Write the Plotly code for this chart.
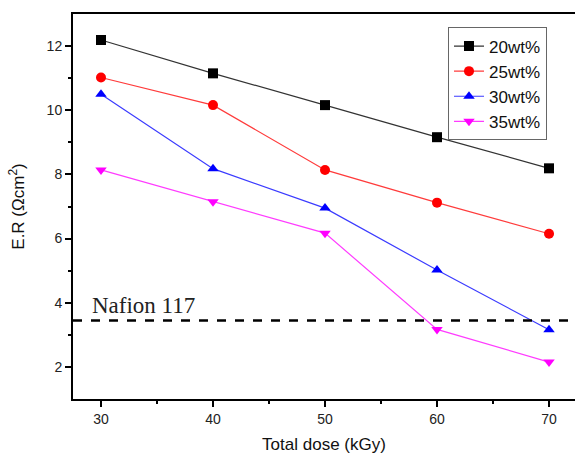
import plotly.graph_objects as go

dose = [30, 40, 50, 60, 70]
er_20 = [12.19, 11.15, 10.16, 9.16, 8.19]
er_25 = [11.02, 10.16, 8.14, 7.12, 6.15]
er_30 = [10.5, 8.18, 6.95, 5.02, 3.16]
er_35 = [8.14, 7.15, 6.17, 3.17, 2.15]
nafion_er = 3.45

series = [
    ("20wt%", er_20, "black", "#333333", "square"),
    ("25wt%", er_25, "red", "#ff3b3b", "circle"),
    ("30wt%", er_30, "blue", "#3b3bff", "triangle-up"),
    ("35wt%", er_35, "magenta", "#ff3bff", "triangle-down"),
]

fig = go.Figure()
for name, vals, color, lcolor, sym in series:
    fig.add_trace(go.Scatter(
        x=dose, y=vals, name=name, mode="lines+markers",
        line=dict(color=lcolor, width=1.2),
        marker=dict(symbol=sym, size=10, color=color),
    ))

# Nafion 117 reference level
fig.add_shape(type="line", xref="paper", x0=0, x1=1, yref="y",
              y0=nafion_er, y1=nafion_er,
              line=dict(color="black", width=2.5, dash="dash"))
fig.add_annotation(x=0.033, xref="paper", y=nafion_er, yref="y",
                   text="Nafion 117", showarrow=False, xanchor="left",
                   yanchor="bottom", yshift=0,
                   font=dict(family="Liberation Serif", size=23, color="#222"))

axis_common = dict(
    showline=True, linecolor="black", linewidth=2, showgrid=False,
    zeroline=False, ticks="outside", ticklen=6, tickwidth=1.5,
    tickcolor="black",
    tickfont=dict(family="Liberation Sans", size=14, color="#222"),
)

fig.update_xaxes(range=[27.5, 72.32], tickvals=dose, mirror=True,
                 title=dict(text="Total dose (kGy)", standoff=12,
                            font=dict(family="Liberation Sans", size=17, color="#111")),
                 minor=dict(tickvals=[35, 45, 55, 65], ticks="outside",
                            ticklen=3, tickwidth=1.5, tickcolor="black"),
                 **axis_common)
fig.update_yaxes(range=[1, 13], tickvals=[2, 4, 6, 8, 10, 12],
                 title=dict(text="E.R (Ωcm<sup>2</sup>)", standoff=18,
                            font=dict(family="Liberation Sans", size=17, color="#111")),
                 minor=dict(tickvals=[3, 5, 7, 9, 11], ticks="outside",
                            ticklen=3, tickwidth=1.5, tickcolor="black"),
                 **axis_common)

fig.update_layout(
    width=575, height=457,
    margin=dict(l=73, r=0, t=14, b=58),
    plot_bgcolor="white", paper_bgcolor="white",
    legend=dict(x=0.747, y=0.965, xanchor="left", yanchor="top",
                bordercolor="#666", borderwidth=1, bgcolor="white",
                font=dict(family="Liberation Sans", size=17, color="#111"),
                tracegroupgap=0, itemwidth=30),
)

fig.write_html("out.html")
